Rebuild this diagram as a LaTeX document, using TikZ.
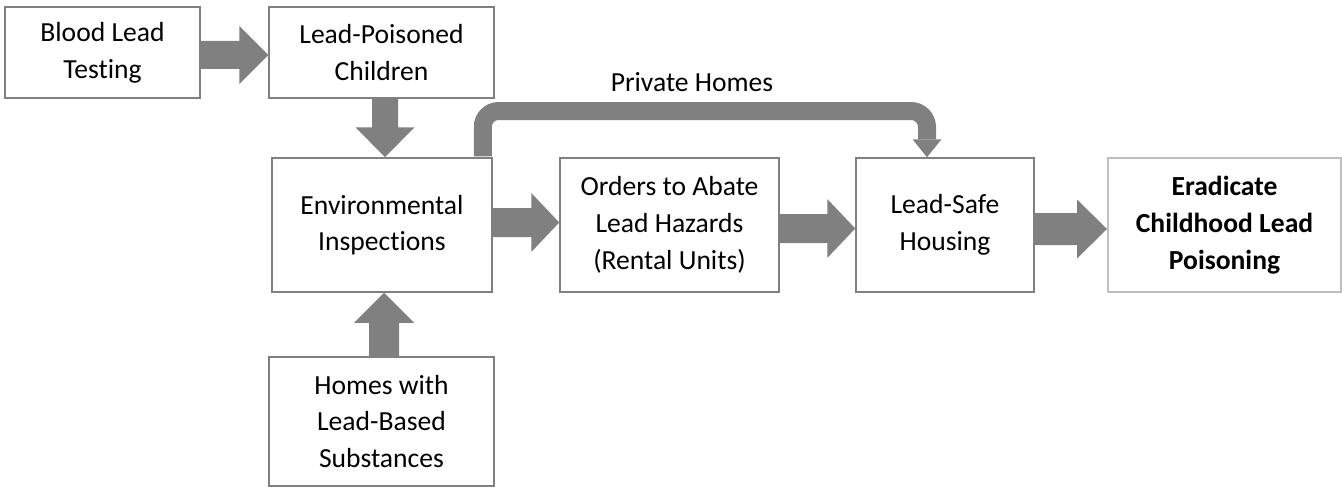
\documentclass[tikz,border=0pt]{standalone}
\usepackage{fontspec}
\setmainfont{Carlito}[Ligatures=NoCommon]
\usetikzlibrary{calc}
\definecolor{boxline}{HTML}{808080}
\definecolor{lightline}{HTML}{C0C0C0}
\definecolor{arrowgray}{HTML}{808080}
\tikzset{
  box/.style={draw=boxline, line width=1.5pt, rectangle, inner sep=0pt, align=center,
    font=\fontsize{27.6}{36.7}\selectfont},
  goalbox/.style={box, draw=lightline, line width=2pt, font=\fontsize{27.6}{36.7}\selectfont\bfseries},
  barrow/.style={fill=arrowgray},
  lbl/.style={inner sep=0pt, font=\fontsize{27.6}{36.7}\selectfont}
}
% horizontal block arrow: from, to, y offset, shaft half, head half, head length
\newcommand\hbarrow[6]{%
  \fill[barrow] let \p1=(#1.east), \p2=(#2.west), \p3=(#1.center) in
   (\x1,\y3+#3+#4) -- (\x2-#6,\y3+#3+#4) -- (\x2-#6,\y3+#3+#5) -- (\x2,\y3+#3)
   -- (\x2-#6,\y3+#3-#5) -- (\x2-#6,\y3+#3-#4) -- (\x1,\y3+#3-#4) -- cycle;}
\begin{document}
\begin{tikzpicture}[x=1pt,y=-1pt]
\useasboundingbox (0,0) rectangle (1342,487);
\node[box, minimum width=195pt, minimum height=91pt] (blood) at (102.5,52.5) {Blood Lead\\Testing};
\node[box, minimum width=225pt, minimum height=91pt] (lpc) at (381.5,52.5) {Lead-Poisoned\\Children};
\node[box, minimum width=220pt, minimum height=134pt] (env) at (382,225) {Environmental\\Inspections};
\node[box, minimum width=219pt, minimum height=134pt] (orders) at (669.5,225) {Orders to Abate\\Lead Hazards\\(Rental Units)};
\node[box, minimum width=178pt, minimum height=134pt] (safe) at (945,225) {Lead-Safe\\Housing};
\node[goalbox, minimum width=233pt, minimum height=134pt] (erad) at (1224.5,225) {Eradicate\\Childhood Lead\\Poisoning};
\node[box, minimum width=225pt, minimum height=129pt] (homes) at (381.5,421.5) {Homes with\\Lead-Based\\Substances};
\node[lbl] (ph) at (692,82) {Private Homes};

\hbarrow{blood}{lpc}{-2.5pt}{14pt}{29pt}{29pt}
\hbarrow{env}{orders}{2.5pt}{14.5pt}{29.5pt}{28pt}
\hbarrow{orders}{safe}{-3.5pt}{14.5pt}{29.5pt}{28pt}
\hbarrow{safe}{erad}{-4pt}{16pt}{29.5pt}{30pt}

% down arrow lpc -> env
\fill[barrow] let \p1=(lpc.south), \p2=(env.north) in
  (\x1+3.5pt-13pt,\y1) -- (\x1+3.5pt+13pt,\y1) -- (\x1+3.5pt+13pt,\y2+30pt)
  -- (\x1+3.5pt+29.5pt,\y2+30pt) -- (\x1+3.5pt,\y2) -- (\x1+3.5pt-29.5pt,\y2+30pt)
  -- (\x1+3.5pt-13pt,\y2+30pt) -- cycle;
% up arrow homes -> env
\fill[barrow] let \p1=(homes.north), \p2=(env.south) in
  (\x1+2.5pt-15pt,\y1) -- (\x1+2.5pt+15pt,\y1) -- (\x1+2.5pt+15pt,\y2-30pt)
  -- (\x1+2.5pt+30pt,\y2-30pt) -- (\x1+2.5pt,\y2) -- (\x1+2.5pt-30pt,\y2-30pt)
  -- (\x1+2.5pt-15pt,\y2-30pt) -- cycle;

% private homes connector
\coordinate (bendy) at (0,111);
\draw[arrowgray, line width=18pt, rounded corners=16pt] let \p1=(env.north east), \p2=(safe.north), \p3=(bendy) in
  (\x1-10pt,\y1+1pt) -- (\x1-10pt,\y3) -- (\x2-18pt,\y3) -- (\x2-18pt,\y2+18pt);
\fill[barrow] let \p2=(safe.north) in
  (\x2-18pt-14.5pt,\y2+18pt) -- (\x2-18pt+14.5pt,\y2+18pt) -- (\x2-18pt,\y2) -- cycle;
\end{tikzpicture}
\end{document}
